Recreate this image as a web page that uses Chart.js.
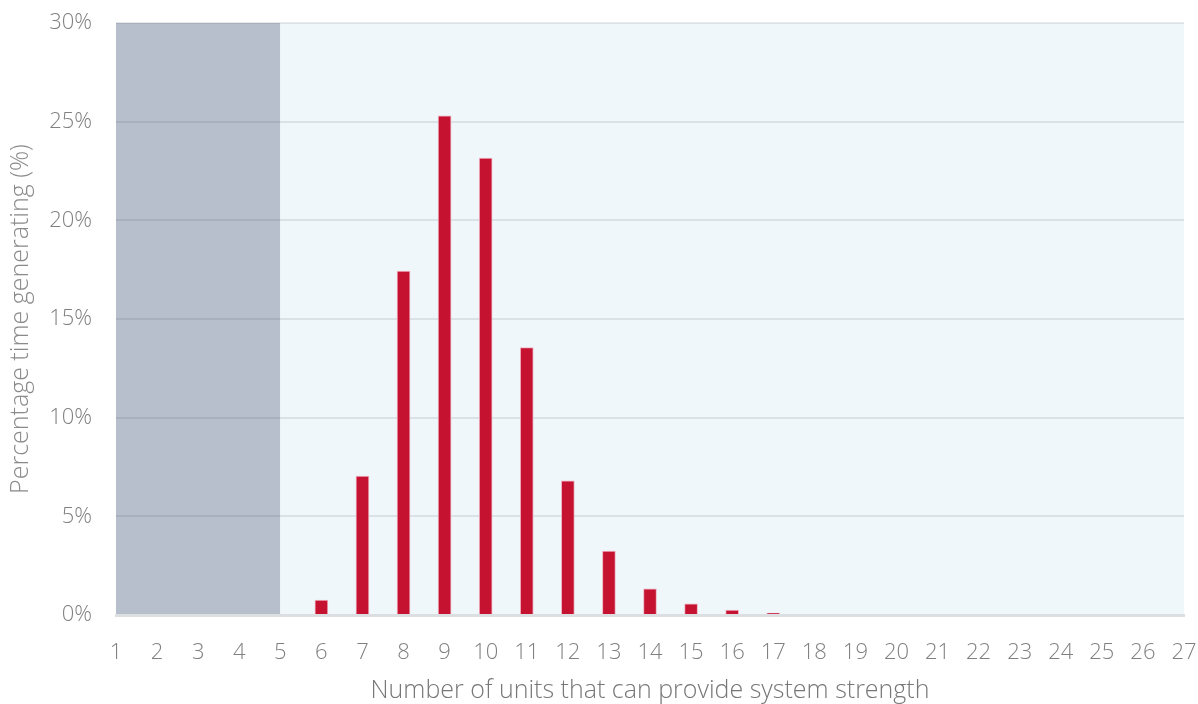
<!DOCTYPE html>
<html>
<head>
<meta charset="utf-8">
<script src="https://cdn.jsdelivr.net/npm/chart.js@4"></script>
<style>
  html, body { margin: 0; padding: 0; background: #fff; }
  #wrap { width: 1198px; height: 704px; }
</style>
</head>
<body>
<div id="wrap"><canvas id="unitsChart"></canvas></div>
<script>
// x categories: number of units
const units = ["1","2","3","4","5","6","7","8","9","10","11","12","13","14","15","16","17","18","19","20","21","22","23","24","25","26","27"];
// percentage time generating (%)
const pctTime = [0, 0, 0, 0, 0, 0.76, 7.04, 17.43, 25.3, 23.15, 13.55, 6.8, 3.24, 1.32, 0.56, 0.25, 0.1, 0, 0, 0, 0, 0, 0, 0, 0, 0, 0];
// shaded zones (in units)
const greyZone = ["1", "5"];
const blueZone = ["5", "27"];
const yTicks = [0, 5, 10, 15, 20, 25, 30];

// paint the two background zones before grid lines
const zones = {
  id: "zones",
  beforeDraw(chart) {
    const { ctx, chartArea, scales } = chart;
    const x = scales.x;
    ctx.save();
    let a = x.getPixelForValue(units.indexOf(greyZone[0]));
    let b = x.getPixelForValue(units.indexOf(greyZone[1]));
    ctx.fillStyle = "#b8bfcc";
    ctx.fillRect(a, chartArea.top, b - a, chartArea.bottom - chartArea.top);
    a = x.getPixelForValue(units.indexOf(blueZone[0]));
    b = x.getPixelForValue(units.indexOf(blueZone[1]));
    ctx.fillStyle = "#eff7fa";
    ctx.fillRect(a, chartArea.top, b - a, chartArea.bottom - chartArea.top);
    ctx.restore();
  }
};

const tickFont = { family: "'Open Sans', sans-serif", size: 22, weight: "300" };
const titleFont = { family: "'Open Sans', sans-serif", size: 25, weight: "300" };

let myChart = document.getElementById("unitsChart").getContext("2d");
let chart = new Chart(myChart, {
  type: "bar",
  data: {
    labels: units,
    datasets: [
      {
        data: pctTime,
        backgroundColor: "#c41230",
        borderColor: "rgba(240,170,185,0.9)",
        borderWidth: 1,
        barThickness: 13,
      },
    ],
  },
  options: {
    responsive: true,
    maintainAspectRatio: false,
    animation: false,
    layout: { padding: { left: 0, right: 0, top: 23, bottom: 0 } },
    plugins: {
      legend: { display: false },
      tooltip: { enabled: false },
    },
    scales: {
      x: {
        offset: false,
        grid: { display: false, drawTicks: false },
        border: { display: true, color: "#dcdfe2", width: 3 },
        ticks: {
          color: "#808080",
          font: tickFont,
          padding: 25,
          maxRotation: 0,
          autoSkip: false,
        },
        title: {
          display: true,
          text: "Number of units that can provide system strength",
          color: "#777777",
          font: titleFont,
          padding: { top: 9, bottom: -2 },
        },
        afterFit(axis) {
          axis.height = 89;
          axis.paddingLeft = 0;
          axis.paddingRight = 14;
        },
      },
      y: {
        min: 0,
        max: 30,
        afterBuildTicks(axis) {
          axis.ticks = yTicks.map((v) => ({ value: v }));
        },
        grid: { color: "rgba(60,70,90,0.12)", lineWidth: 2, drawTicks: false },
        border: { display: false },
        ticks: {
          color: "#808080",
          font: tickFont,
          padding: 24,
          callback: (v) => v + "%",
        },
        title: {
          display: true,
          text: "Percentage time generating (%)",
          color: "#8a8a8a",
          font: titleFont,
          padding: { top: 6, bottom: 4 },
        },
        afterFit(axis) {
          axis.width = 116;
          axis.paddingTop = 0;
          axis.paddingBottom = 0;
        },
      },
    },
  },
  plugins: [zones],
});
</script>
</body>
</html>
